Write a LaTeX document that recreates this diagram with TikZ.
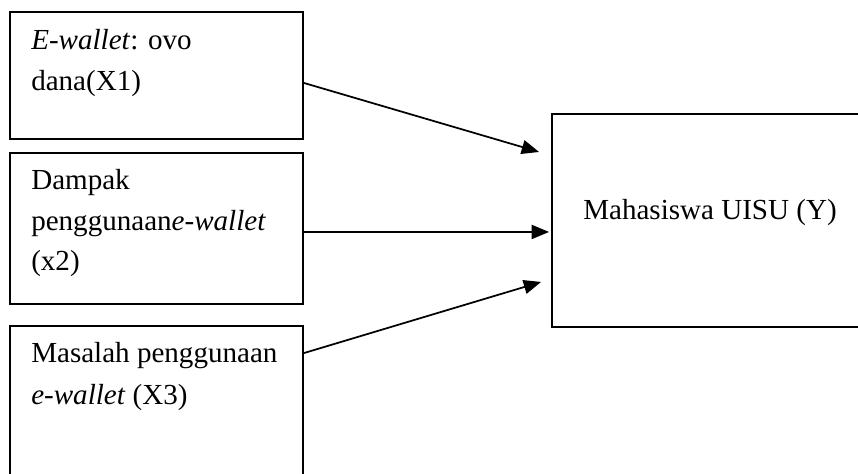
\documentclass[tikz,border=0pt]{standalone}
\usepackage{fontspec}
\setmainfont{Liberation Serif}
\usetikzlibrary{arrows.meta,fit}
\begin{document}
\begin{tikzpicture}[x=0.75pt,y=-0.75pt,
  box/.style={draw=black, line width=1.4pt, inner sep=0pt, rectangle},
  txt/.style={inner sep=0pt, anchor=base west, font=\fontsize{21.8pt}{30pt}\selectfont},
  arr/.style={line width=1.3pt, -{Triangle[length=13pt,width=10.5pt]}}]
\useasboundingbox (0,0) rectangle (858,474);
\clip (0,0) rectangle (858,474);
\node[box, fit={(10,12) (303,139)}] (b1) {};
\node[box, fit={(10,153) (303,304)}] (b2) {};
\node[box, fit={(10,326) (303,490)}] (b3) {};
\node[box, fit={(552,114) (880,327)}] (y) {};
\node[txt] (t1a) at (31,50) {\textit{E-wallet}: ovo};
\node[txt] (t1b) at (31,91) {dana(X1)};
\node[txt] (t2a) at (31,190) {Dampak};
\node[txt] (t2b) at (31,231) {penggunaan\textit{e-wallet}};
\node[txt] (t2c) at (31,271) {(x2)};
\node[txt] (t3a) at (31,363) {Masalah penggunaan};
\node[txt] (t3b) at (31,404) {\textit{e-wallet} (X3)};
\node[txt] (ty) at (583,220) {Mahasiswa UISU (Y)};
\draw[arr] ([yshift=-5.6pt]b1.east) -- ([xshift=-9pt,yshift=51.4pt]y.west);
\draw[arr] ([yshift=-2.6pt]b2.east) -- ([xshift=-1.5pt,yshift=-8.6pt]y.west);
\draw[arr] ([yshift=-21pt]b3.north east) -- ([xshift=-7.5pt,yshift=-46.1pt]y.west);
\end{tikzpicture}
\end{document}
